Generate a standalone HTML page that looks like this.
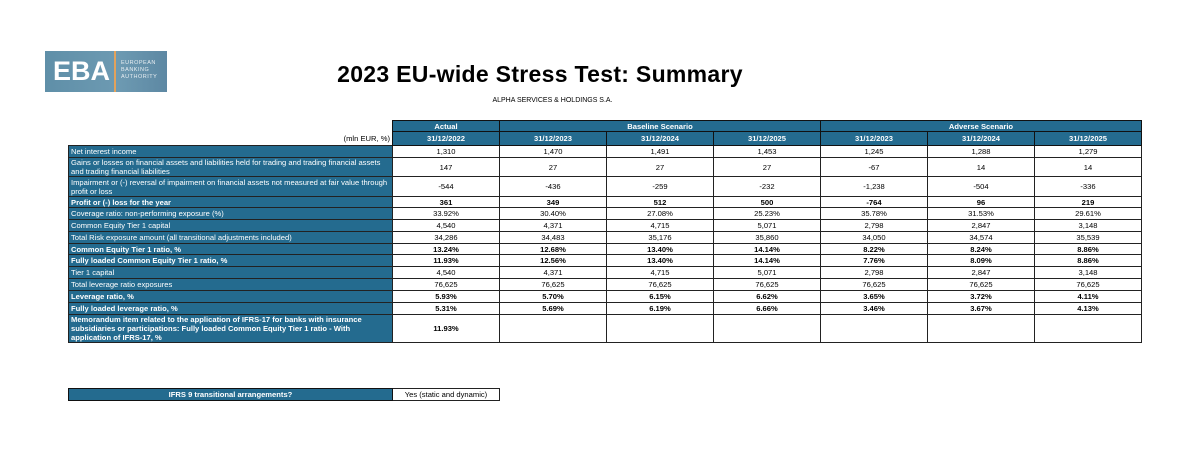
<!DOCTYPE html>
<html><head><meta charset="utf-8"><style>
body{margin:0;width:1186px;height:464px;background:#fff;position:relative;overflow:hidden;font-family:"Liberation Sans",sans-serif;}
.logo{position:absolute;left:45px;top:51px;width:122px;height:41px;background:linear-gradient(90deg,#5f8fa8,#6d9ab2 60%,#5d88a3);}
.logo .e{position:absolute;left:8px;top:5px;font-size:27px;font-weight:bold;color:#fff;letter-spacing:0px;}
.logo .bar{position:absolute;left:69px;top:0;width:2px;height:41px;background:#e3a25b;}
.logo .t{position:absolute;left:76px;top:9px;font-size:5.5px;color:#e8eef2;line-height:7px;letter-spacing:0.5px;}
.title{position:absolute;left:0;width:1080px;top:61px;text-align:center;font-size:23px;font-weight:bold;letter-spacing:0.3px;}
.sub{position:absolute;left:0;width:1105px;top:97px;text-align:center;font-size:7px;}
table{position:absolute;left:68px;top:120px;border-collapse:collapse;table-layout:fixed;font-size:7.6px;}
td{padding:0 2px;overflow:hidden;white-space:nowrap;border:1px solid #222;text-align:center;color:#000;line-height:9px;}
td.h{background:#246b8f;color:#fff;font-weight:bold;border:1px solid #111;}
td.l{background:#246b8f;color:#fff;text-align:left;white-space:normal;}
td.n{border:none;background:#fff;}
tr.b td{font-weight:bold;}
tr.b td.l{font-weight:bold;}
</style></head><body>
<div class="logo"><div class="e">EBA</div><div class="bar"></div><div class="t">EUROPEAN<br>BANKING<br>AUTHORITY</div></div>
<div class="title">2023 EU-wide Stress Test: Summary</div>
<div class="sub">ALPHA SERVICES &amp; HOLDINGS S.A.</div>
<table>
<colgroup><col style="width:324px"><col style="width:107px"><col style="width:107px"><col style="width:107px"><col style="width:107px"><col style="width:107px"><col style="width:107px"><col style="width:107px"></colgroup>
<tr style="height:11px"><td class="n"></td><td class="h">Actual</td><td class="h" colspan="3">Baseline Scenario</td><td class="h" colspan="3">Adverse Scenario</td></tr>
<tr style="height:14px"><td class="n" style="text-align:right">(mln EUR, %)</td><td class="h">31/12/2022</td><td class="h">31/12/2023</td><td class="h">31/12/2024</td><td class="h">31/12/2025</td><td class="h">31/12/2023</td><td class="h">31/12/2024</td><td class="h">31/12/2025</td></tr>
<tr style="height:12px"><td class="l">Net interest income</td><td>1,310</td><td>1,470</td><td>1,491</td><td>1,453</td><td>1,245</td><td>1,288</td><td>1,279</td></tr>
<tr style="height:19px"><td class="l">Gains or losses on financial assets and liabilities held for trading and trading financial assets and trading financial liabilities</td><td>147</td><td>27</td><td>27</td><td>27</td><td>-67</td><td>14</td><td>14</td></tr>
<tr style="height:20px"><td class="l">Impairment or (-) reversal of impairment on financial assets not measured at fair value through profit or loss</td><td>-544</td><td>-436</td><td>-259</td><td>-232</td><td>-1,238</td><td>-504</td><td>-336</td></tr>
<tr class="b" style="height:11px"><td class="l">Profit or (-) loss for the year</td><td>361</td><td>349</td><td>512</td><td>500</td><td>-764</td><td>96</td><td>219</td></tr>
<tr style="height:12px"><td class="l">Coverage ratio: non-performing exposure (%)</td><td>33.92%</td><td>30.40%</td><td>27.08%</td><td>25.23%</td><td>35.78%</td><td>31.53%</td><td>29.61%</td></tr>
<tr style="height:12px"><td class="l">Common Equity Tier 1 capital</td><td>4,540</td><td>4,371</td><td>4,715</td><td>5,071</td><td>2,798</td><td>2,847</td><td>3,148</td></tr>
<tr style="height:12px"><td class="l">Total Risk exposure amount (all transitional adjustments included)</td><td>34,286</td><td>34,483</td><td>35,176</td><td>35,860</td><td>34,050</td><td>34,574</td><td>35,539</td></tr>
<tr class="b" style="height:11px"><td class="l">Common Equity Tier 1 ratio, %</td><td>13.24%</td><td>12.68%</td><td>13.40%</td><td>14.14%</td><td>8.22%</td><td>8.24%</td><td>8.86%</td></tr>
<tr class="b" style="height:12px"><td class="l">Fully loaded Common Equity Tier 1 ratio, %</td><td>11.93%</td><td>12.56%</td><td>13.40%</td><td>14.14%</td><td>7.76%</td><td>8.09%</td><td>8.86%</td></tr>
<tr style="height:12px"><td class="l">Tier 1 capital</td><td>4,540</td><td>4,371</td><td>4,715</td><td>5,071</td><td>2,798</td><td>2,847</td><td>3,148</td></tr>
<tr style="height:12px"><td class="l">Total leverage ratio exposures</td><td>76,625</td><td>76,625</td><td>76,625</td><td>76,625</td><td>76,625</td><td>76,625</td><td>76,625</td></tr>
<tr class="b" style="height:12px"><td class="l">Leverage ratio, %</td><td>5.93%</td><td>5.70%</td><td>6.15%</td><td>6.62%</td><td>3.65%</td><td>3.72%</td><td>4.11%</td></tr>
<tr class="b" style="height:12px"><td class="l">Fully loaded leverage ratio, %</td><td>5.31%</td><td>5.69%</td><td>6.19%</td><td>6.66%</td><td>3.46%</td><td>3.67%</td><td>4.13%</td></tr>
<tr class="b" style="height:28px"><td class="l" style="line-height:9px">Memorandum item related to the application of IFRS-17 for banks with insurance subsidiaries or participations: Fully loaded Common Equity Tier 1 ratio - With application of IFRS-17, %</td><td>11.93%</td><td></td><td></td><td></td><td></td><td></td><td></td></tr>
</table>
<table style="top:388px">
<colgroup><col style="width:324px"><col style="width:107px"></colgroup>
<tr style="height:12px"><td class="h">IFRS 9 transitional arrangements?</td><td>Yes (static and dynamic)</td></tr>
</table>
</body></html>
